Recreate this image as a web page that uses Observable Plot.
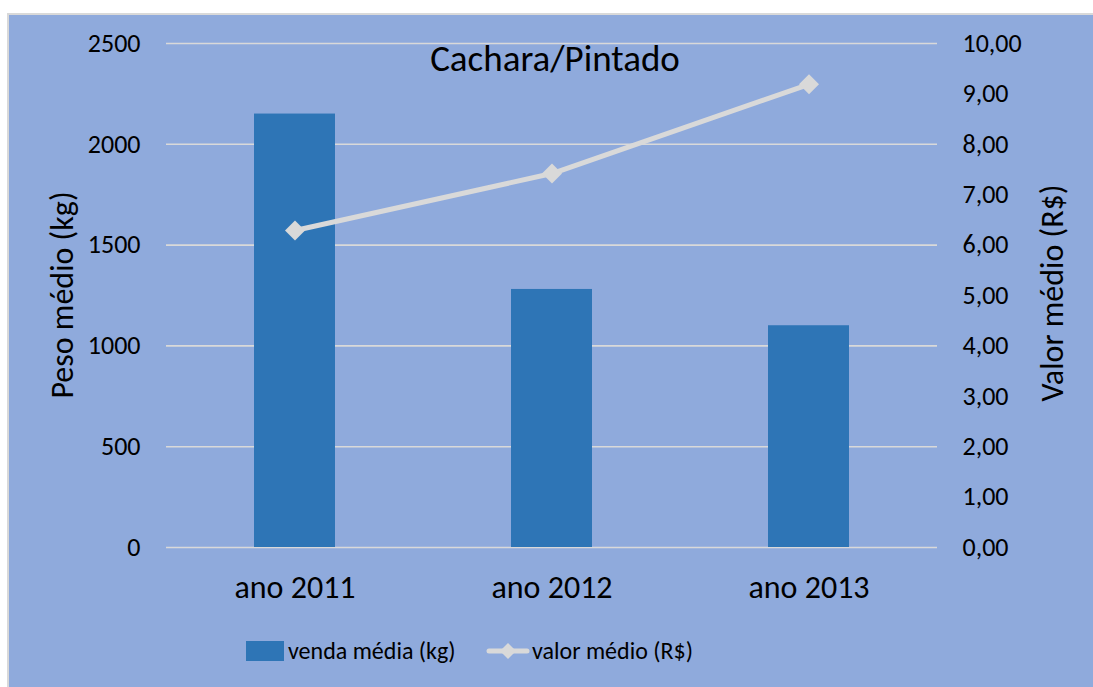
<!DOCTYPE html>
<html>
<head>
<meta charset="utf-8">
<script src="https://cdn.jsdelivr.net/npm/d3@7"></script>
<script src="https://cdn.jsdelivr.net/npm/@observablehq/plot@0.6"></script>
<style>
  html, body { margin: 0; padding: 0; background: #ffffff; }
  #wrap { position: relative; width: 1093px; height: 687px; overflow: hidden; font-family: Carlito, Lato, "Open Sans", sans-serif; color: #000; }
  #panel { position: absolute; left: 7px; top: 13px; width: 1090px; height: 680px; background: #8FAADC; border-left: 2px solid #D9D9D9; border-top: 2px solid #D9D9D9; }
  #chart { position: absolute; left: 0; top: 0; }
  #title { position: absolute; left: 455px; width: 200px; top: 38px; text-align: center; font-size: 37px; line-height: 42px; white-space: nowrap; display: flex; justify-content: center; }
  .ylab { position: absolute; font-size: 32px; white-space: nowrap; line-height: 36px; }
  #ylabL { left: 63px; top: 295px; transform: translate(-50%, -50%) rotate(-90deg); }
  #ylabR { left: 1053px; top: 293px; transform: translate(-50%, -50%) rotate(-90deg); }
  .leg { position: absolute; font-size: 24px; line-height: 30px; white-space: nowrap; }
  .sw { position: absolute; left: 246px; top: 641px; width: 38px; height: 20px; background: #2E75B6; }
</style>
</head>
<body>
<div id="wrap">
  <div id="panel"></div>
  <div id="chart"></div>
  <div id="title">Cachara/Pintado</div>
  <div class="ylab" id="ylabL">Peso médio (kg)</div>
  <div class="ylab" id="ylabR">Valor médio (R$)</div>
  <div class="sw"></div>
  <div class="leg" id="leg1" style="left:288px; top:636px;"></div>
  <svg id="legsw2" width="44" height="24" style="position:absolute; left:486px; top:639px;"></svg>
  <div class="leg" id="leg2" style="left:532px; top:636px;"></div>
</div>
<script>
const categories = ["ano 2011", "ano 2012", "ano 2013"];
const vendaMedia = [2150, 1280, 1100];      // kg (left axis)
const valorMedio = [6.29, 7.42, 9.19];      // R$ (right axis)
const leftTicks = [0, 500, 1000, 1500, 2000, 2500];
const rightTicks = [0, 1, 2, 3, 4, 5, 6, 7, 8, 9, 10];
const seriesNames = ["venda média (kg)", "valor médio (R$)"];

const RATIO = 250; // 10,00 on the right axis == 2500 on the left axis
const barColor = "#2E75B6";
const lineColor = "#D9D9D9";

const rows = categories.map((c, i) => ({ cat: c, venda: vendaMedia[i], valor: valorMedio[i] }));
const fmtR = d => (d / RATIO).toFixed(2).replace(".", ",");

const chart = Plot.plot({
  width: 1093,
  height: 687,
  marginTop: 43,
  marginBottom: 140,
  marginLeft: 166,
  marginRight: 156,
  style: { background: "transparent", fontFamily: "Carlito, Lato, 'Open Sans', sans-serif", fontSize: "26px", color: "#000", overflow: "visible" },
  x: { domain: categories, paddingInner: 0.685, paddingOuter: 0.3425, label: null },
  y: { domain: [0, 2500], label: null },
  marks: [
    Plot.ruleY(leftTicks, { stroke: lineColor, strokeWidth: 1.6 }),
    Plot.barY(rows, { x: "cat", y: "venda", fill: barColor }),
    Plot.axisY(leftTicks, { anchor: "left", tickSize: 0, tickPadding: 26, tickFormat: d => String(d), label: null, fontSize: 26 }),
    Plot.axisY(rightTicks.map(v => v * RATIO), { anchor: "right", tickSize: 0, tickPadding: 25, tickFormat: fmtR, textAnchor: "start", label: null, fontSize: 26 }),
    Plot.axisX({ anchor: "bottom", tickSize: 0, tickPadding: 28, label: null, fontSize: 32 }),
    Plot.line(rows, { x: "cat", y: d => d.valor * RATIO, stroke: lineColor, strokeWidth: 5 }),
    Plot.dot(rows, { x: "cat", y: d => d.valor * RATIO, symbol: "diamond2", r: 9, fill: lineColor, stroke: "none" })
  ]
});
document.getElementById("chart").appendChild(chart);

// legend
document.getElementById("leg1").textContent = seriesNames[0];
document.getElementById("leg2").textContent = seriesNames[1];
document.getElementById("legsw2").innerHTML =
  `<line x1="3" y1="12" x2="41" y2="12" stroke="${lineColor}" stroke-width="5" stroke-linecap="round"/>` +
  `<path d="M22 4 L30 12 L22 20 L14 12 Z" fill="${lineColor}"/>`;
</script>
</body>
</html>
